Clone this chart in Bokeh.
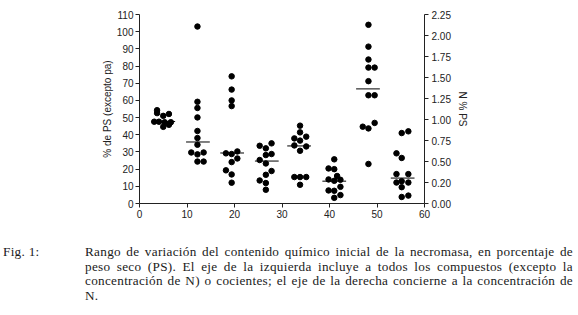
from bokeh.plotting import figure
from bokeh.models import Range1d, LinearAxis, FixedTicker, Div
from bokeh.layouts import column
from bokeh.embed import file_html
from bokeh.resources import INLINE

# ---- data ----
g1_x = [3.7, 3.7, 5.0, 6.2, 3.1, 4.1, 5.3, 6.6, 5.0, 6.2]
g1_y = [54.3, 52.6, 51.0, 52.1, 47.6, 47.6, 47.3, 47.3, 44.6, 45.8]
g2_x = [12.2, 12.2, 12.2, 12.2, 12.2, 12.2, 12.2, 10.9, 12.2, 13.5, 12.2, 13.5]
g2_y = [103.0, 59.2, 55.6, 50.1, 42.2, 38.1, 34.2, 29.7, 28.6, 29.7, 24.4, 24.4]
g3_x = [19.4, 19.4, 19.4, 19.4, 18.2, 19.4, 20.6, 19.4, 20.6, 18.2, 19.4, 19.4]
g3_y = [74.0, 66.3, 60.0, 56.7, 29.2, 28.8, 30.3, 24.1, 26.2, 19.3, 16.9, 12.1]
g4_x = [25.3, 26.6, 27.8, 26.6, 27.8, 25.3, 26.6, 27.8, 26.6, 25.3, 26.6, 26.6]
g4_y = [33.6, 32.1, 35.0, 28.2, 28.8, 25.3, 23.3, 18.9, 16.7, 13.4, 11.9, 8.0]
g5_x = [33.8, 33.8, 32.6, 33.8, 35.1, 32.6, 35.1, 33.8, 32.6, 33.8, 35.1, 33.8]
g5_y = [45.3, 41.4, 37.9, 36.6, 38.9, 33.8, 33.2, 30.7, 15.4, 15.4, 15.4, 10.9]
g6_x = [41.0, 39.8, 41.0, 41.6, 39.8, 41.0, 42.3, 39.8, 41.0, 42.3, 41.0, 42.3]
g6_y = [25.7, 20.4, 20.0, 16.0, 14.0, 13.2, 13.8, 7.6, 7.4, 9.7, 3.3, 4.9]
g7_x = [48.2, 48.2, 48.2, 48.2, 49.5, 48.2, 48.2, 49.5, 47.0, 48.2, 49.5, 48.2]
g7_y = [104.0, 91.3, 83.8, 79.1, 79.1, 71.2, 63.0, 63.0, 44.7, 43.7, 46.9, 23.0]
g8_x = [55.2, 56.6, 54.1, 55.2, 54.1, 56.6, 54.1, 55.2, 56.6, 55.2, 55.2, 56.6]
g8_y = [41.0, 42.0, 29.2, 26.5, 17.1, 17.1, 12.2, 13.0, 12.2, 9.5, 3.8, 4.6]

group_centers = [5.0, 12.3, 19.5, 26.8, 33.6, 41.0, 48.1, 55.4]
group_medians = [47.7, 35.8, 29.4, 24.7, 33.5, 13.0, 66.7, 14.8]
median_half_width = 2.5

x_ticks = [0, 10, 20, 30, 40, 50, 60]
y_ticks = [0, 10, 20, 30, 40, 50, 60, 70, 80, 90, 100, 110]
n_ticks = [0.0, 0.25, 0.5, 0.75, 1.0, 1.25, 1.5, 1.75, 2.0, 2.25]
n_tick_labels = ["0.00", "0.20", "0.50", "0.75", "1.00", "1.25", "1.50", "1.75", "2.00", "2.25"]

left_label = "% de PS (excepto pa)"
right_label = "N % PS"

caption_tag = "Fig. 1:"
caption_lines = [
    "Rango de variación del contenido químico inicial de la necromasa, en porcentaje de",
    "peso seco (PS). El eje de la izquierda incluye a todos los compuestos (excepto la",
    "concentración de N) o cocientes; el eje de la derecha concierne a la concentración de",
    "N.",
]

# ---- figure ----
TXT = "#222222"
p = figure(width=578, height=232, x_range=Range1d(0, 60), y_range=Range1d(0, 110),
           output_backend="svg", toolbar_location=None,
           min_border_left=139, min_border_right=154, min_border_top=14, min_border_bottom=29)
p.outline_line_color = None
p.xgrid.visible = False
p.ygrid.visible = False
p.background_fill_color = "white"
p.border_fill_color = "white"

all_x = g1_x + g2_x + g3_x + g4_x + g5_x + g6_x + g7_x + g8_x
all_y = g1_y + g2_y + g3_y + g4_y + g5_y + g6_y + g7_y + g8_y
p.scatter(all_x, all_y, size=5.5, color="black")

p.segment(x0=[c - median_half_width for c in group_centers], y0=group_medians,
          x1=[c + median_half_width for c in group_centers], y1=group_medians,
          line_color="black", line_width=1)

def style_axis(ax):
    ax.axis_line_color = TXT
    ax.major_tick_line_color = TXT
    ax.major_tick_out = 4
    ax.major_tick_in = 0
    ax.minor_tick_line_color = None
    ax.major_label_text_font = "Liberation Sans"
    ax.major_label_text_font_size = "10px"
    ax.major_label_text_color = TXT
    ax.axis_label_text_font = "Liberation Sans"
    ax.axis_label_text_font_size = "10px"
    ax.axis_label_text_font_style = "normal"
    ax.axis_label_text_color = TXT

xa = p.xaxis[0]
xa.ticker = FixedTicker(ticks=x_ticks)
style_axis(xa)
xa.major_label_standoff = 2

ya = p.yaxis[0]
ya.ticker = FixedTicker(ticks=y_ticks)
style_axis(ya)
ya.major_label_standoff = 2
ya.axis_label = left_label
ya.axis_label_standoff = 1

p.extra_y_ranges = {"n": Range1d(0, 2.25)}
ra = LinearAxis(y_range_name="n", ticker=FixedTicker(ticks=n_ticks),
                major_label_overrides={t: l for t, l in zip(n_ticks, n_tick_labels)})
style_axis(ra)
ra.major_label_standoff = 3
ra.axis_label = right_label
ra.axis_label_standoff = 3
p.add_layout(ra, "right")

# ---- caption ----
line_divs = []
for i, ln in enumerate(caption_lines):
    last = i == len(caption_lines) - 1
    align = "text-align:left;" if last else "text-align:justify;text-align-last:justify;"
    line_divs.append(f'<div style="white-space:nowrap;{align}">{ln}</div>')
html = (
    '<div style="display:flex;padding-top:13px;font-family:\'Liberation Serif\';'
    'font-size:13.2px;letter-spacing:0.3px;line-height:14.5px;color:#1a1a1a;">'
    f'<div style="width:85px;padding-left:3px;box-sizing:border-box;">{caption_tag}</div>'
    '<div style="width:488px;">' + "".join(line_divs) + '</div></div>'
)
cap = Div(text=html, width=578, height=83, margin=0)

layout = column(p, cap, spacing=0)
open("out.html", "w").write(file_html(layout, INLINE))
